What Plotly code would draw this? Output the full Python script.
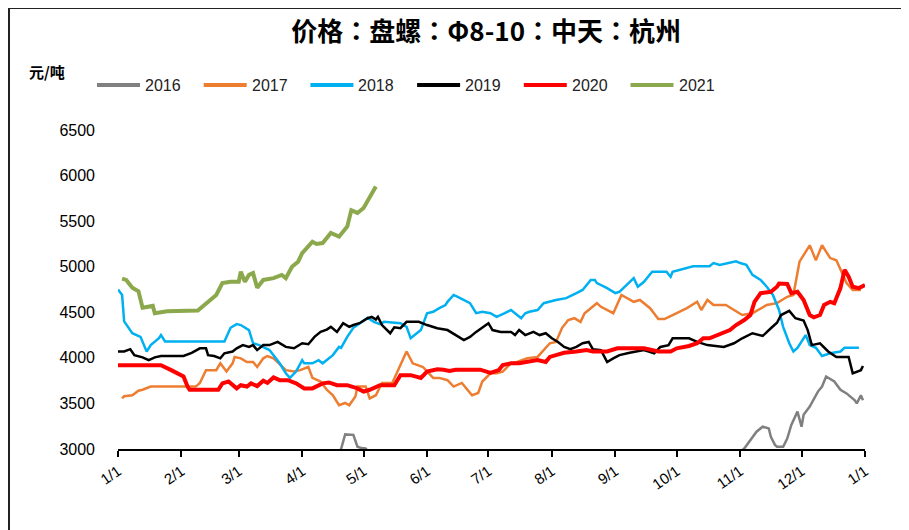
import pandas as pd
import plotly.graph_objects as go

# day offsets from 1/1 and price in 元/吨
d2016 = [0, 30, 60, 90, 105, 109, 111, 115, 117, 119, 121, 125, 150, 180, 210, 240, 270, 300,
         306, 309, 312, 315, 318, 319, 321, 322, 325, 327, 329, 332, 334, 335, 338, 342, 344,
         346, 350, 353, 356, 360, 361, 363, 364]
v2016 = [2150, 2200, 2400, 2750, 2900, 3000, 3160, 3155, 3025, 3010, 3005, 2900, 2500, 2450,
         2650, 2750, 2700, 2900, 3005, 3100, 3190, 3245, 3225, 3135, 3045, 3025, 3025, 3115,
         3265, 3410, 3245, 3375, 3465, 3630, 3685, 3795, 3740, 3650, 3610, 3535, 3500, 3590, 3535]

d2017 = [2, 3, 7, 10, 12, 16, 38, 40, 43, 48, 50, 53, 56, 57, 60, 63, 66, 68, 71, 73, 76, 77,
         82, 86, 89, 93, 95, 99, 102, 105, 108, 111, 113, 116, 117, 121, 123, 126, 129, 134,
         137, 141, 144, 149, 154, 157, 161, 164, 168, 173, 176, 178, 182, 185, 188, 192, 195,
         200, 205, 208, 211, 214, 217, 220, 223, 226, 228, 231, 234, 236, 239, 242, 246, 249,
         252, 255, 260, 264, 267, 271, 278, 283, 285, 288, 291, 297, 301, 305, 310, 317, 322,
         327, 330, 333, 338, 341, 344, 348, 351, 356, 359, 363]
v2017 = [3555, 3580, 3590, 3640, 3650, 3685, 3685, 3725, 3865, 3865, 3940, 3850, 3940, 4010,
         3995, 3955, 3955, 3900, 3995, 4020, 3995, 3975, 3865, 3850, 3865, 3900, 3780, 3740,
         3650, 3590, 3480, 3505, 3480, 3575, 3685, 3685, 3555, 3590, 3725, 3725, 3865, 4070,
         3940, 3900, 3780, 3780, 3755, 3685, 3725, 3590, 3615, 3740, 3830, 3830, 3850, 3940,
         3955, 3995, 4010, 4085, 4160, 4175, 4330, 4415, 4435, 4395, 4490, 4545, 4600, 4560,
         4525, 4490, 4690, 4655, 4615, 4635, 4545, 4425, 4425, 4470, 4545, 4615, 4525, 4635,
         4580, 4580, 4525, 4470, 4490, 4580, 4600, 4670, 4690, 5055, 5235, 5070, 5235, 5095,
         5070, 4820, 4745, 4745]

d2018 = [0, 2, 3, 7, 11, 14, 16, 20, 21, 23, 52, 55, 58, 60, 64, 66, 69, 74, 79, 82, 84, 87,
         90, 91, 95, 98, 100, 104, 105, 108, 109, 112, 115, 117, 122, 125, 128, 130, 138, 141,
         143, 146, 148, 151, 154, 157, 160, 161, 164, 166, 172, 175, 178, 182, 185, 189, 192,
         194, 197, 199, 201, 205, 208, 214, 219, 224, 227, 231, 233, 234, 236, 239, 243, 245,
         252, 254, 257, 261, 268, 270, 271, 281, 289, 291, 294, 299, 302, 304, 307, 310, 314,
         317, 320, 323, 325, 328, 330, 332, 336, 338, 341, 344, 348, 353, 355, 362]
v2018 = [4750, 4690, 4400, 4270, 4230, 4070, 4140, 4215, 4250, 4180, 4180, 4330, 4370, 4360,
         4305, 4160, 4140, 4085, 3940, 3830, 3780, 3850, 3975, 3940, 3940, 3975, 3940, 4010,
         4030, 4120, 4110, 4230, 4330, 4360, 4440, 4395, 4370, 4395, 4380, 4340, 4215, 4270,
         4305, 4490, 4505, 4545, 4580, 4615, 4690, 4670, 4600, 4490, 4505, 4490, 4450, 4490,
         4525, 4490, 4435, 4490, 4505, 4525, 4600, 4635, 4655, 4710, 4745, 4855, 4855, 4820,
         4800, 4765, 4710, 4725, 4875, 4780, 4835, 4945, 4945, 4890, 4945, 5005, 5005, 5040,
         5020, 5040, 5060, 5040, 5020, 4910, 4855, 4780, 4690, 4525, 4340, 4160, 4070, 4110,
         4250, 4140, 4110, 4020, 4050, 4070, 4110, 4110]

d2019 = [0, 3, 6, 8, 12, 15, 18, 21, 32, 36, 40, 43, 44, 47, 50, 52, 56, 58, 61, 64, 66, 68,
         71, 74, 78, 82, 86, 90, 93, 96, 99, 102, 104, 107, 110, 113, 115, 118, 122, 124, 126,
         127, 129, 133, 135, 138, 141, 147, 151, 156, 161, 165, 169, 172, 175, 181, 183, 187,
         192, 194, 196, 199, 203, 206, 209, 212, 215, 218, 221, 224, 227, 230, 232, 236, 239,
         242, 245, 250, 257, 262, 265, 269, 271, 279, 283, 288, 296, 301, 305, 310, 315, 319,
         322, 324, 328, 331, 335, 337, 339, 343, 347, 351, 357, 359, 363, 364]
v2019 = [4070, 4070, 4095, 4030, 4005, 3975, 4005, 4020, 4020, 4055, 4105, 4105, 4030, 4020,
         3995, 4050, 4070, 4105, 4140, 4120, 4140, 4085, 4140, 4140, 4175, 4120, 4105, 4160,
         4150, 4230, 4285, 4310, 4340, 4285, 4380, 4340, 4360, 4380, 4435, 4450, 4420, 4450,
         4360, 4270, 4335, 4325, 4395, 4395, 4360, 4325, 4305, 4250, 4195, 4230, 4285, 4380,
         4305, 4285, 4285, 4250, 4305, 4250, 4285, 4250, 4270, 4215, 4175, 4120, 4095, 4120,
         4160, 4175, 4095, 4085, 3955, 3995, 4030, 4055, 4085, 4050, 4120, 4140, 4215, 4215,
         4175, 4140, 4120, 4160, 4215, 4270, 4240, 4325, 4385, 4470, 4515, 4435, 4410, 4305,
         4140, 4160, 4070, 4010, 4010, 3830, 3865, 3910]

d2020 = [0, 21, 26, 32, 34, 35, 49, 51, 54, 56, 58, 60, 63, 65, 68, 71, 73, 76, 79, 83, 87,
         91, 95, 100, 103, 107, 112, 117, 120, 123, 128, 135, 138, 143, 148, 151, 156, 159,
         162, 165, 177, 182, 186, 188, 192, 196, 200, 205, 209, 211, 214, 218, 224, 229, 232,
         239, 244, 250, 252, 257, 264, 270, 273, 279, 283, 286, 289, 293, 296, 299, 302, 306,
         309, 311, 314, 319, 322, 323, 327, 329, 332, 335, 338, 340, 343, 345, 348, 350, 353,
         355, 357, 359, 362, 365]
v2020 = [3920, 3920, 3865, 3795, 3685, 3650, 3650, 3720, 3740, 3700, 3665, 3700, 3685, 3720,
         3690, 3750, 3725, 3785, 3755, 3755, 3720, 3665, 3665, 3720, 3730, 3700, 3700, 3665,
         3630, 3650, 3700, 3700, 3810, 3810, 3780, 3850, 3875, 3870, 3855, 3870, 3870, 3835,
         3865, 3920, 3940, 3940, 3955, 3975, 3955, 4010, 4030, 4055, 4070, 4085, 4070, 4070,
         4105, 4105, 4095, 4105, 4070, 4070, 4105, 4130, 4160, 4215, 4215, 4250, 4285, 4305,
         4360, 4415, 4470, 4615, 4710, 4725, 4780, 4815, 4810, 4710, 4725, 4635, 4470, 4445,
         4470, 4580, 4615, 4600, 4765, 4965, 4890, 4780, 4765, 4800]

d2021 = [2, 4, 7, 10, 12, 17, 18, 24, 39, 48, 51, 55, 59, 60, 62, 64, 66, 68, 71, 76, 80, 82,
         85, 88, 90, 95, 97, 100, 104, 108, 112, 114, 117, 120, 126]
v2021 = [4870, 4855, 4770, 4730, 4550, 4570, 4490, 4510, 4520, 4690, 4820, 4835, 4835, 4945,
         4835, 4910, 4930, 4770, 4855, 4875, 4910, 4875, 5000, 5055, 5150, 5275, 5250, 5260,
         5370, 5330, 5440, 5620, 5590, 5645, 5880]

tick_text = ["1/1", "2/1", "3/1", "4/1", "5/1", "6/1", "7/1", "8/1", "9/1", "10/1", "11/1",
             "12/1", "1/1"]

base = pd.Timestamp("2021-01-01")


def to_dates(days):
    return base + pd.to_timedelta(days, unit="D")


series = [
    ("2016", d2016, v2016, "#808080", 2.5),
    ("2017", d2017, v2017, "#ED7D31", 2.5),
    ("2018", d2018, v2018, "#00B0F0", 2.5),
    ("2019", d2019, v2019, "#000000", 2.5),
    ("2020", d2020, v2020, "#FF0000", 4),
    ("2021", d2021, v2021, "#8BA84C", 4),
]

# plot area in figure pixels
L, T, R, B = 110, 122, 52, 89
W, H = 909, 530
PW, PH = W - L - R, H - T - B


def px_x(fx):
    return (fx - L) / PW


def px_y(fy):
    return (H - B - fy) / PH


fig = go.Figure()
for name, days, vals, color, width in series:
    fig.add_trace(go.Scatter(x=to_dates(days), y=vals, name=name, mode="lines",
                             line=dict(color=color, width=width), showlegend=False))

tick_vals = pd.date_range("2021-01-01", "2022-01-01", freq="MS")

fig.update_xaxes(range=[base, pd.Timestamp("2022-01-01")], tickvals=tick_vals,
                 ticktext=tick_text, tickangle=-35, showgrid=False, showline=True,
                 linecolor="black", linewidth=1.5, ticks="outside", ticklen=6,
                 tickcolor="black", tickwidth=1.5,
                 tickfont=dict(size=15, color="black", family="Liberation Sans"))
fig.update_yaxes(range=[3000, 6500], dtick=500, showgrid=False, showline=False,
                 zeroline=False, ticks="", ticklabelstandoff=22,
                 tickfont=dict(size=16, color="black", family="Liberation Sans"))

fig.update_layout(
    width=W, height=H,
    margin=dict(l=L, r=R, t=T, b=B),
    plot_bgcolor="white", paper_bgcolor="white",
    title=dict(text="<b>价格：盘螺：Φ8-10：中天：杭州</b>", x=0.526, xanchor="center",
               y=0.955, yanchor="middle",
               font=dict(size=26, color="black", family="Noto Sans CJK TC")),
)

# legend drawn by hand: line sample + label
for i, (name, days, vals, color, width) in enumerate(series):
    x0 = 89 + 106.7 * i
    fig.add_shape(type="line", xref="paper", yref="paper",
                  x0=px_x(x0), x1=px_x(x0 + 43), y0=px_y(77), y1=px_y(77),
                  line=dict(color=color, width=4))
    fig.add_annotation(text=name, xref="paper", yref="paper", x=px_x(x0 + 46), y=px_y(77),
                       xanchor="left", yanchor="middle", showarrow=False,
                       font=dict(size=16, color="#222222", family="Liberation Sans"))

fig.add_annotation(text="<b>元/吨</b>", xref="paper", yref="paper", x=px_x(39), y=px_y(64),
                   xanchor="center", yanchor="middle", showarrow=False,
                   font=dict(size=15, color="black", family="Noto Sans CJK SC"))

# outer frame (left and top edges visible)
fig.add_shape(type="rect", xref="paper", yref="paper", x0=px_x(1), x1=px_x(W + 20),
              y0=px_y(H + 20), y1=px_y(0),
              line=dict(color="#222222", width=2), layer="below")

fig.write_html("out.html")
